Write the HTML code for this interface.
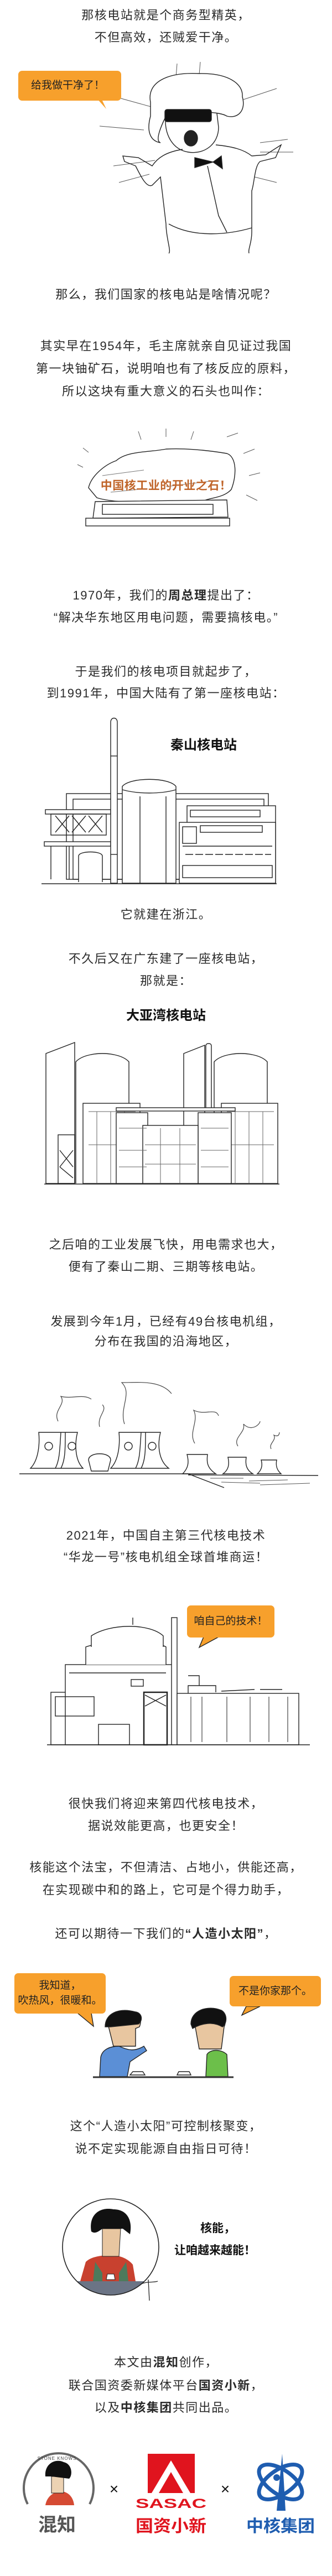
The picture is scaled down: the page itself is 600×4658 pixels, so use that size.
<!DOCTYPE html>
<html><head><meta charset="utf-8">
<style>
html,body{margin:0;padding:0;background:#fff}
body{width:600px;height:4658px;position:relative;overflow:hidden;font-family:"Liberation Sans","Noto Sans CJK SC",sans-serif;color:#2a2a2a}
.t{position:absolute;left:0;width:600px;text-align:center;font-size:22px;line-height:26px;letter-spacing:1.5px;white-space:nowrap}
.b{font-weight:bold;color:#111}
.bub{position:absolute;background:#f7a02c;border-radius:7px;color:#222;font-size:19px;line-height:26px;text-align:center;white-space:nowrap}
svg{position:absolute;left:0;overflow:visible}
</style></head><body>

<div class="t" style="top:15px">那核电站就是个商务型精英，</div>
<div class="t" style="top:55px">不但高效，还贼爱干净。</div>

<!-- man drawing -->
<svg style="top:0" width="600" height="470" viewBox="0 0 600 470" fill="none" stroke="#222" stroke-width="1.4">
 <polygon points="150,150 192,197 170,150" fill="#f7a02c" stroke="none"/>
 <g stroke="#555" stroke-width="1">
  <line x1="180" y1="228" x2="260" y2="235"/><line x1="190" y1="170" x2="280" y2="195"/><line x1="205" y1="300" x2="280" y2="290"/>
  <line x1="470" y1="258" x2="520" y2="252"/><line x1="470" y1="275" x2="530" y2="275"/><line x1="440" y1="180" x2="500" y2="160"/>
  <line x1="460" y1="320" x2="500" y2="330"/><line x1="215" y1="330" x2="270" y2="315"/><line x1="320" y1="115" x2="318" y2="140"/><line x1="362" y1="112" x2="360" y2="135"/>
 </g>
 <path d="M272,185 C265,150 300,130 360,133 C410,132 440,150 438,175 C445,200 430,215 410,210 C395,200 330,200 300,210 C290,230 280,255 290,258 C270,255 265,235 272,210 Z" fill="#fff"/>
 <path d="M300,205 C295,240 310,270 340,275 C370,280 395,260 395,230 L392,205"/>
 <rect x="298" y="198" width="84" height="22" rx="4" fill="#111"/>
 <ellipse cx="345" cy="250" rx="12" ry="14" fill="#222"/>
 <path d="M330,270 C300,275 285,285 275,300 L250,285 L222,282 L225,292 L245,300 C255,320 265,340 275,335 L290,320 L300,405 C300,430 310,455 305,458"/>
 <path d="M390,262 C420,265 440,270 455,282 L480,280 L508,262 L498,285 L470,292 C460,300 460,330 455,345 L455,420 C455,440 448,450 450,458"/>
 <path d="M305,405 C350,430 410,425 455,412"/>
 <path d="M352,285 L385,293 L352,303 Z M385,293 L400,282 L402,305 Z" fill="#111"/>
 <path d="M375,300 L395,390 L410,420"/>
</svg>
<div class="bub" style="left:33px;top:128px;width:186px;height:54px;line-height:54px;text-align:left;text-indent:23px">给我做干净了！</div>

<div class="t" style="top:520px">那么，我们国家的核电站是啥情况呢？</div>
<div class="t" style="top:613px">其实早在1954年，毛主席就亲自见证过我国</div>
<div class="t" style="top:654px">第一块铀矿石，说明咱也有了核反应的原料，</div>
<div class="t" style="top:695px">所以这块有重大意义的石头也叫作：</div>

<!-- stone -->
<svg style="top:0" width="600" height="1000" viewBox="0 0 600 1000" fill="none" stroke="#222" stroke-width="1.4">
 <g stroke="#555" stroke-width="1">
  <line x1="140" y1="840" x2="150" y2="845"/><line x1="150" y1="810" x2="160" y2="818"/><line x1="440" y1="820" x2="460" y2="812"/><line x1="450" y1="860" x2="470" y2="855"/><line x1="445" y1="895" x2="465" y2="905"/><line x1="250" y1="780" x2="255" y2="795"/><line x1="300" y1="775" x2="300" y2="790"/><line x1="350" y1="780" x2="345" y2="795"/><line x1="410" y1="790" x2="430" y2="783"/>
 </g>
 <path d="M160,882 C165,860 190,840 210,833 C230,815 270,818 300,812 C340,810 380,815 410,820 C428,826 428,860 418,885 C405,900 380,900 370,905 C340,910 300,905 270,908 C230,910 190,905 175,900 Z" fill="#fff"/>
 <path d="M185,860 L260,850 M300,880 L380,870 M200,890 L250,885" stroke="#777" stroke-width="1"/>
 <path d="M172,907 L410,904 L412,935 L168,937 Z" fill="#fff"/>
 <rect x="185" y="912" width="200" height="18"/>
 <rect x="155" y="937" width="260" height="14" fill="#fff"/>
</svg>
<div class="t b" style="top:866px;color:#c0652a;font-size:21px;letter-spacing:0.5px">中国核工业的开业之石！</div>

<div class="t" style="top:1064px">1970年，我们的<b>周总理</b>提出了：</div>
<div class="t" style="top:1104px">“解决华东地区用电问题，需要搞核电。”</div>
<div class="t" style="top:1202px">于是我们的核电项目就起步了，</div>
<div class="t" style="top:1241px">到1991年，中国大陆有了第一座核电站：</div>

<!-- Qinshan -->
<svg style="top:0" width="600" height="1620" viewBox="0 0 600 1620" fill="none" stroke="#222" stroke-width="1.4">
 <rect x="120" y="1435" width="365" height="155" fill="#fff"/>
 <rect x="132" y="1445" width="345" height="145"/>
 <rect x="82" y="1464" width="118" height="8" fill="#fff"/>
 <rect x="92" y="1472" width="100" height="38"/>
 <path d="M100,1475 L125,1505 M125,1475 L100,1505 M130,1475 L155,1505 M155,1475 L130,1505 M160,1475 L185,1505 M185,1475 L160,1505"/>
 <rect x="80" y="1522" width="120" height="8" fill="#fff"/>
 <line x1="92" y1="1530" x2="92" y2="1590"/><line x1="125" y1="1530" x2="125" y2="1590"/>
 <path d="M142,1595 L142,1548 C142,1538 185,1538 185,1548 L185,1595" fill="#fff"/>
 <path d="M200,1597 L200,1306 C200,1296 212,1296 212,1306 L212,1597 Z" fill="#fff"/>
 <line x1="200" y1="1367" x2="212" y2="1367"/><line x1="200" y1="1545" x2="212" y2="1545"/>
 <path d="M221,1597 L221,1422 C235,1405 305,1405 318,1422 L318,1597 Z" fill="#fff"/>
 <path d="M221,1428 C250,1436 290,1436 318,1428"/>
 <line x1="253" y1="1440" x2="253" y2="1597"/><line x1="300" y1="1440" x2="300" y2="1597"/>
 <rect x="338" y="1457" width="160" height="140" fill="#fff"/>
 <rect x="324" y="1487" width="174" height="110" fill="#fff"/>
 <rect x="344" y="1465" width="126" height="12"/>
 <rect x="362" y="1493" width="112" height="12"/>
 <rect x="330" y="1495" width="25" height="30"/>
 <line x1="330" y1="1530" x2="492" y2="1530"/><line x1="335" y1="1545" x2="490" y2="1545" stroke-dasharray="14,4"/>
 <rect x="330" y="1565" width="162" height="22"/>
 <line x1="75" y1="1598" x2="500" y2="1598"/>
</svg>
<div class="t b" style="top:1335px;left:308px;width:auto;text-align:left;font-size:24px;letter-spacing:0">秦山核电站</div>

<div class="t" style="top:1641px">它就建在浙江。</div>
<div class="t" style="top:1721px">不久后又在广东建了一座核电站，</div>
<div class="t" style="top:1761px">那就是：</div>
<div class="t b" style="top:1824px;font-size:24px;letter-spacing:0">大亚湾核电站</div>

<!-- Daya Bay -->
<svg style="top:0" width="600" height="2160" viewBox="0 0 600 2160" fill="none" stroke="#222" stroke-width="1.4">
 <path d="M83,1990 L83,1905 L135,1885 L135,2140 L83,2140 Z" fill="#fff"/>
 <rect x="105" y="2052" width="30" height="88"/>
 <path d="M108,2080 L132,2110 M132,2080 L108,2110 M108,2110 L132,2130"/>
 <path d="M332,1905 L370,1890 L370,2140 L332,2140 Z" fill="#fff"/>
 <path d="M137,2140 L137,1920 C155,1900 215,1900 233,1920 L233,2140" fill="#fff"/>
 <path d="M387,2140 L387,1920 C405,1900 465,1900 483,1920 L483,2140" fill="#fff"/>
 <rect x="372" y="1887" width="10" height="120" rx="4" fill="#fff"/>
 <rect x="150" y="1995" width="103" height="145" fill="#fff"/>
 <rect x="400" y="1995" width="102" height="145" fill="#fff"/>
 <path d="M160,2010 L245,2010 M160,2070 L245,2070 M175,2010 L175,2140 M200,2010 L200,2140 M225,2010 L225,2140 M410,2010 L495,2010 M410,2070 L495,2070 M425,2010 L425,2140 M450,2010 L450,2140 M475,2010 L475,2140" stroke="#666" stroke-width="1"/>
 <rect x="210" y="2003" width="215" height="6" fill="#fff"/>
 <rect x="210" y="2012" width="57" height="128" fill="#fff"/>
 <rect x="358" y="2012" width="60" height="128" fill="#fff"/>
 <rect x="258" y="2035" width="100" height="105" fill="#fff"/>
 <path d="M215,2040 L265,2040 M215,2080 L265,2080 M215,2110 L265,2110 M363,2040 L413,2040 M363,2080 L413,2080 M363,2110 L413,2110 M262,2070 L354,2070 M262,2105 L354,2105 M290,2040 L290,2140 M325,2040 L325,2140" stroke="#666" stroke-width="1"/>
 <line x1="80" y1="2141" x2="505" y2="2141"/>
</svg>

<div class="t" style="top:2238px">之后咱的工业发展飞快，用电需求也大，</div>
<div class="t" style="top:2278px">便有了秦山二期、三期等核电站。</div>
<div class="t" style="top:2377px">发展到今年1月，已经有49台核电机组，</div>
<div class="t" style="top:2413px">分布在我国的沿海地区，</div>

<!-- cooling towers -->
<svg style="top:0" width="600" height="2700" viewBox="0 0 600 2700" fill="none" stroke="#222" stroke-width="1.4">
 <g stroke="#444" stroke-width="1.2">
  <path d="M105,2570 C95,2550 120,2540 110,2525 C130,2530 150,2520 165,2530"/>
  <path d="M225,2575 C215,2545 240,2520 220,2500 C250,2500 290,2495 310,2520"/>
  <path d="M180,2580 C175,2560 195,2550 185,2540"/>
  <path d="M352,2610 C340,2590 360,2570 350,2550 C370,2560 390,2545 395,2560"/>
  <path d="M430,2615 C420,2600 445,2590 440,2575 C455,2590 470,2575 470,2570"/>
  <path d="M490,2620 C485,2610 500,2605 495,2595 C505,2600 505,2590 505,2590"/>
 </g>
 <path d="M70,2590 L140,2590 C135,2610 135,2640 150,2655 L55,2655 C70,2640 72,2610 70,2590 Z" fill="#fff"/>
 <path d="M215,2590 L290,2590 C285,2610 285,2640 305,2655 L200,2655 C215,2640 217,2610 215,2590 Z" fill="#fff"/>
 <path d="M110,2590 C108,2620 108,2640 100,2655 M118,2590 C118,2620 118,2640 110,2655 M255,2590 C253,2620 253,2640 245,2655 M263,2590 C263,2620 263,2640 255,2655"/>
 <circle cx="88" cy="2615" r="7"/><circle cx="130" cy="2615" r="7"/><circle cx="232" cy="2615" r="7"/><circle cx="275" cy="2615" r="7"/>
 <path d="M160,2640 C160,2625 200,2625 200,2640 L195,2660 L165,2660 Z" fill="#fff"/>
 <path d="M338,2630 L375,2630 C373,2645 375,2655 390,2665 L330,2665 C340,2655 342,2645 338,2630 Z" fill="#fff"/>
 <path d="M412,2635 L445,2635 C443,2648 445,2658 457,2665 L403,2665 C413,2658 415,2648 412,2635 Z" fill="#fff"/>
 <path d="M472,2640 L500,2640 C498,2650 500,2658 508,2665 L465,2665 C473,2658 475,2650 472,2640 Z" fill="#fff"/>
 <line x1="35" y1="2665" x2="340" y2="2665"/>
 <path d="M340,2665 L405,2690 M340,2667 L575,2668"/>
 <path d="M380,2673 L440,2673 M450,2678 L520,2676 M470,2685 L560,2682 M400,2680 L470,2682" stroke="#555" stroke-width="1"/>
</svg>

<div class="t" style="top:2764px">2021年，中国自主第三代核电技术</div>
<div class="t" style="top:2803px">“华龙一号”核电机组全球首堆商运！</div>

<!-- Hualong -->
<svg style="top:0" width="600" height="3170" viewBox="0 0 600 3170" fill="none" stroke="#222" stroke-width="1.4">
 <polygon points="370,2955 360,2979 395,2960" fill="#f7a02c"/>
 <rect x="92" y="3060" width="210" height="95" fill="#fff"/>
 <rect x="118" y="3010" width="195" height="145" fill="#fff"/>
 <path d="M155,3010 L155,2978 C190,2966 280,2966 300,2978 L300,3010" fill="#fff"/>
 <path d="M165,2978 L165,2958 C200,2935 270,2935 295,2958 L295,2978" fill="#fff"/>
 <line x1="240" y1="2925" x2="240" y2="2938"/>
 <rect x="310" y="2925" width="10" height="230" fill="#fff"/>
 <rect x="100" y="3068" width="70" height="35"/>
 <rect x="178" y="3118" width="56" height="37"/>
 <rect x="260" y="3060" width="42" height="95" stroke-width="2.5"/>
 <path d="M262,3065 L300,3085 M300,3065 L262,3085"/>
 <rect x="237" y="3037" width="22" height="12"/>
 <line x1="125" y1="3025" x2="300" y2="3025"/>
 <rect x="320" y="3062" width="220" height="93" fill="#fff"/>
 <path d="M340,3062 L340,3048 L390,3048 L390,3060 M400,3058 L460,3055 M470,3055 L510,3055 M340,3030 L360,3030 L360,3048"/>
 <path d="M345,3068 L345,3150 M365,3068 L365,3150 M410,3068 L410,3150 M452,3068 L452,3150 M486,3068 L486,3150 M520,3068 L520,3150" stroke="#444" stroke-width="1.2"/>
 <line x1="85" y1="3155" x2="560" y2="3155"/>
</svg>
<div class="bub" style="left:338px;top:2903px;width:158px;height:58px;line-height:58px">咱自己的技术！</div>

<div class="t" style="top:3249px">很快我们将迎来第四代核电技术，</div>
<div class="t" style="top:3289px">据说效能更高，也更安全！</div>
<div class="t" style="top:3364px">核能这个法宝，不但清洁、占地小，供能还高，</div>
<div class="t" style="top:3405px">在实现碳中和的路上，它可是个得力助手，</div>
<div class="t" style="top:3484px">还可以期待一下我们的<b>“人造小太阳”</b>，</div>

<!-- two characters -->
<svg style="top:0" width="600" height="3770" viewBox="0 0 600 3770" fill="none" stroke="#222" stroke-width="1.4">
 <polygon points="140,3640 169,3664 165,3640" fill="#f7a02c"/>
 <polygon points="445,3628 437,3644 470,3628" fill="#f7a02c"/>
 <path d="M195,3660 C195,3640 215,3635 235,3640 C250,3640 258,3650 252,3665 L245,3668 L245,3700 L205,3700 Z" fill="#e8c6a0"/>
 <path d="M190,3665 C190,3640 215,3630 245,3638 C258,3640 258,3655 250,3660 L200,3665 Z" fill="#111"/>
 <path d="M180,3755 L182,3720 C185,3705 200,3700 215,3700 C228,3705 240,3712 260,3700 L265,3708 L235,3728 L230,3755 Z" fill="#5b8fd6"/>
 <path d="M352,3660 C350,3640 370,3632 390,3638 C405,3642 410,3655 405,3665 L400,3705 L360,3705 Z" fill="#e8c6a0"/>
 <path d="M345,3660 C345,3635 375,3625 400,3635 C412,3642 410,3660 402,3665 C385,3655 365,3658 348,3668 Z" fill="#111"/>
 <path d="M372,3755 L374,3715 C380,3705 400,3705 410,3715 L412,3755 Z" fill="#6cbf4a"/>
 <path d="M235,3752 L262,3752 L258,3746 L240,3746 Z M320,3752 L345,3752 L342,3746 L323,3746 Z"/>
 <line x1="168" y1="3756" x2="422" y2="3756" stroke-width="3" stroke="#333"/>
</svg>
<div class="bub" style="left:26px;top:3568px;width:165px;height:73px;padding-top:9px;box-sizing:border-box;line-height:27px">我知道，<br>吹热风，很暖和。</div>
<div class="bub" style="left:415px;top:3573px;width:165px;height:55px;line-height:55px">不是你家那个。</div>

<div class="t" style="top:3832px">这个“人造小太阳”可控制核聚变，</div>
<div class="t" style="top:3873px">说不定实现能源自由指日可待！</div>

<!-- circle portrait -->
<svg style="top:0" width="600" height="4160" viewBox="0 0 600 4160" fill="none" stroke="#222" stroke-width="1.6">
 <defs><clipPath id="cc"><circle cx="200" cy="4063" r="87"/></clipPath></defs>
 <g clip-path="url(#cc)">
  <rect x="100" y="4125" width="200" height="40" fill="#6b7485" stroke="none"/>
  <path d="M145,4125 L155,4090 C165,4080 185,4078 200,4078 C218,4078 232,4085 240,4095 L245,4125 Z" fill="#c8412f" stroke="none"/>
  <path d="M172,4090 L185,4110 L185,4125 L168,4125 Z M228,4090 L215,4110 L215,4125 L232,4125 Z" fill="#4d7a5c" stroke="none"/>
  <path d="M185,4030 L185,4080 L215,4080 L218,4030 Z" fill="#e8c6a0" stroke="#222" stroke-width="1"/>
  <path d="M165,4035 C160,4005 180,3990 205,3995 C230,3995 240,4015 235,4040 L222,4030 L185,4030 C178,4035 172,4040 165,4035 Z" fill="#111" stroke="none"/>
  <path d="M192,4122 L208,4122 L206,4112 L194,4112 Z" fill="#fff" stroke-width="1"/>
 </g>
 <circle cx="200" cy="4063" r="87"/>
 <path d="M255,4130 C265,4125 275,4128 285,4125 M268,4122 L270,4160" stroke-width="1.3"/>
</svg>
<div class="t b" style="top:4017px;left:362px;width:auto;text-align:left;font-size:21px;letter-spacing:0">核能，</div>
<div class="t b" style="top:4057px;left:315px;width:auto;text-align:left;font-size:21px;letter-spacing:0">让咱越来越能！</div>

<div class="t" style="top:4259px">本文由<b>混知</b>创作，</div>
<div class="t" style="top:4301px">联合国资委新媒体平台<b>国资小新</b>，</div>
<div class="t" style="top:4341px">以及<b>中核集团</b>共同出品。</div>

<!-- logos -->
<svg style="top:0" width="600" height="4658" viewBox="0 0 600 4658">
 <path d="M50,4528 A63,63 0 1 1 162,4528" fill="none" stroke="#666" stroke-width="4"/>
 <text x="103" y="4448" text-anchor="middle" font-family="Liberation Sans" font-size="8" fill="#444" letter-spacing="1">STONE KNOWS</text>
 <path d="M82,4530 C85,4512 100,4505 110,4505 C120,4505 132,4512 134,4530 Z" fill="#d54a33"/>
 <rect x="93" y="4478" width="22" height="30" fill="#ecd2b3" stroke="#222"/>
 <path d="M82,4478 C80,4455 100,4445 115,4452 C130,4455 132,4475 125,4482 L93,4478 Z" fill="#111"/>
 <text x="103" y="4577" text-anchor="middle" font-family="Liberation Sans,Noto Sans CJK SC,sans-serif" font-weight="bold" font-size="34" fill="#555">混知</text>
 <text x="206" y="4510" text-anchor="middle" font-family="Liberation Sans" font-size="28" fill="#111">×</text>
 <text x="407" y="4510" text-anchor="middle" font-family="Liberation Sans" font-size="28" fill="#111">×</text>
 <rect x="267" y="4437" width="85" height="71" fill="#e0141e"/>
 <polygon points="309,4449 274,4508 287,4508 309,4470 331,4508 344,4508" fill="#fff"/>
 <text x="309" y="4535" text-anchor="middle" font-family="Liberation Sans" font-weight="bold" font-size="24" fill="#e0141e" textLength="128" lengthAdjust="spacingAndGlyphs">SASAC</text>
 <text x="309" y="4578" text-anchor="middle" font-family="Liberation Sans,Noto Sans CJK SC,sans-serif" font-weight="bold" font-size="30" fill="#e0141e" textLength="128" lengthAdjust="spacingAndGlyphs">国资小新</text>
 <g fill="none" stroke="#1f5db0" stroke-width="7">
  <ellipse cx="507" cy="4488" rx="45" ry="22" transform="rotate(-35 507 4488)"/>
  <ellipse cx="507" cy="4488" rx="45" ry="22" transform="rotate(35 507 4488)"/>
 </g>
 <path d="M510,4437 L500,4540 L516,4540 Z" fill="#1f5db0"/>
 <circle cx="500" cy="4480" r="6" fill="#1f5db0"/>
 <text x="507" y="4578" text-anchor="middle" font-family="Liberation Sans,Noto Sans CJK SC,sans-serif" font-weight="bold" font-size="30" fill="#1f5db0" textLength="124" lengthAdjust="spacingAndGlyphs">中核集团</text>
</svg>

</body></html>
